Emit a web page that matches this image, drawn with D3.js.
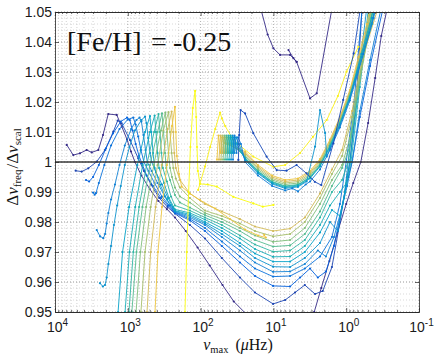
<!DOCTYPE html>
<html>
<head>
<meta charset="utf-8">
<script src="https://cdnjs.cloudflare.com/ajax/libs/d3/7.8.5/d3.min.js"></script>
<style>
  body { margin: 0; background: #fff; }
  svg { display: block; }
</style>
</head>
<body>
<svg id="chart"></svg>
<script>
// axis ticks
const xDomain = [1e4, 1e-1];
const yDomain = [0.95, 1.05];
const xTickValues = [1e4, 1e3, 1e2, 1e1, 1e0, 1e-1];
const xTickExponents = ['4', '3', '2', '1', '0', '-1'];
const yTickValues = [0.95, 0.96, 0.97, 0.98, 0.99, 1.0, 1.01, 1.02, 1.03, 1.04, 1.05];
const yTickLabels = ['0.95', '0.96', '0.97', '0.98', '0.99', '1', '1.01', '1.02', '1.03', '1.04', '1.05'];

// tracks: [numax (muHz), dnu_freq/dnu_scal]
const track0 = [[6900,1.0057],[5610,1.0023],[4540,1.0029],[3670,1.004],[3130,1.0032],[2540,1.004],[2190,1.009],[1855,1.016],[1420,1.0157],[1210,1.0118],[1025,1.0075],[904,1.0035],[797,1.0],[650,0.9955],[500,0.991],[380,0.987],[290,0.9843],[225,0.9815],[160,0.977],[110,0.9715],[75,0.9655],[50,0.959],[35,0.9535],[24,0.9495],[18,0.946],[8,0.938],[4,0.938],[2.75,0.95],[2.2,0.958],[1.7,0.967],[1.3,0.977],[1.0,0.986],[0.8,0.993],[0.63,1.0],[0.5,1.013],[0.4,1.028],[0.33,1.042],[0.28,1.05],[0.26,1.055]];
const track1 = [[5200,0.9971],[4300,0.9968],[3490,0.9979],[2675,1.0001],[2055,1.004],[1580,1.0101],[1377,1.0138],[1214,1.0129],[933,1.0073],[718,1.0012],[600,0.997],[480,0.9925],[370,0.988],[285,0.985],[225,0.9828],[140,0.979],[87,0.9745],[51,0.968],[28.8,0.9615],[17.9,0.9565],[10.1,0.9527],[6.9,0.954],[5.05,0.9565],[3.7,0.959],[2.68,0.956],[2.1,0.957],[1.57,0.965],[1.22,0.98],[0.97,0.995],[0.89,1.0],[0.73,1.02],[0.61,1.05],[0.57,1.056]];
const track2 = [[3750,0.994],[3400,0.9935],[3000,0.995],[2500,0.999],[2000,1.0045],[1600,1.0095],[1250,1.0135],[1025,1.0148],[940,1.014],[860,1.0105],[780,1.006],[700,1.002],[640,0.9995],[550,0.9955],[450,0.992],[350,0.988],[280,0.9855],[225,0.983],[140,0.9805],[87,0.977],[51,0.972],[28.8,0.9665],[17.9,0.962],[10.1,0.9587],[5.9,0.9585],[4.3,0.9615],[3.14,0.9645],[2.45,0.9615],[1.9,0.9635],[1.47,0.972],[1.14,0.985],[0.94,0.995],[0.83,1.0],[0.65,1.015],[0.47,1.032],[0.32,1.05],[0.3,1.055]];
const track3 = [[3000,0.9898],[2850,0.9891],[2740,0.9896],[2500,0.993],[2100,0.999],[1700,1.0055],[1300,1.011],[1000,1.0142],[840,1.0148],[780,1.0125],[720,1.0085],[660,1.004],[600,1.0],[520,0.997],[430,0.993],[340,0.9885],[270,0.9855],[225,0.9832],[140,0.981],[87,0.978],[51,0.9735],[28.8,0.9685],[17.9,0.9645],[10.1,0.9618],[5.9,0.962],[3.7,0.9645],[2.29,0.9685],[1.57,0.975],[1.22,0.986],[1.0,1.0],[0.78,1.02],[0.61,1.05],[0.58,1.055]];
const track4 = [[2670,0.9773],[2400,0.9752],[2170,0.9746],[2050,0.976],[1950,0.9795],[1850,0.983],[1700,0.9875],[1500,0.9925],[1300,0.999],[1100,1.0055],[900,1.011],[760,1.014],[690,1.0148],[650,1.0135],[610,1.009],[570,1.004],[540,1.0],[470,0.997],[390,0.993],[310,0.9885],[260,0.9855],[225,0.9834],[140,0.9815],[87,0.979],[51,0.975],[28.8,0.9705],[17.9,0.9665],[10.1,0.9634],[5.9,0.9635],[3.7,0.966],[2.45,0.9705],[1.9,0.9685],[1.47,0.975],[1.14,0.985],[0.97,0.992],[0.83,1.0],[0.65,1.017],[0.47,1.034],[0.34,1.05],[0.32,1.054]];
const track5 = [[2410,0.9596],[2200,0.9585],[2055,0.959],[1950,0.9615],[1850,0.966],[1700,0.972],[1550,0.979],[1400,0.9855],[1250,0.992],[1100,0.999],[950,1.005],[800,1.0105],[650,1.014],[580,1.0151],[555,1.013],[525,1.008],[495,1.003],[470,1.0],[410,0.9965],[340,0.9925],[280,0.988],[240,0.985],[225,0.9836],[140,0.982],[87,0.9795],[51,0.976],[28.8,0.972],[17.9,0.968],[10.1,0.9651],[5.9,0.965],[3.7,0.968],[2.29,0.973],[1.67,0.98],[1.3,0.977],[1.07,0.988],[0.94,1.0],[0.71,1.025],[0.53,1.05],[0.5,1.055]];
const track6 = [[1500,0.94],[1360,0.95],[1180,0.97],[960,0.985],[740,0.999],[580,1.01],[496,1.0153],[475,1.01],[450,1.003],[428,0.998],[361,0.9925],[290,0.9875],[225,0.9838],[140,0.9825],[87,0.98],[51,0.977],[28.8,0.973],[17.9,0.9695],[10.1,0.9668],[5.9,0.9668],[3.7,0.97],[2.29,0.9765],[1.57,0.984],[1.22,0.982],[1.04,0.99],[0.89,1.0],[0.67,1.025],[0.5,1.05],[0.47,1.055]];
const track7 = [[1200,0.94],[1090,0.95],[950,0.97],[790,0.985],[625,0.999],[496,1.01],[428,1.0155],[410,1.01],[390,1.003],[372,0.998],[318,0.993],[272,0.988],[225,0.9842],[140,0.983],[87,0.9808],[51,0.978],[28.8,0.9745],[17.9,0.971],[10.1,0.9684],[5.9,0.9685],[3.7,0.972],[2.29,0.979],[1.67,0.9855],[1.22,0.99],[0.99,0.993],[0.86,1.0],[0.65,1.025],[0.49,1.05],[0.46,1.055]];
const track8 = [[1060,0.94],[965,0.95],[840,0.97],[700,0.985],[550,0.999],[435,1.01],[378,1.016],[361,1.01],[345,1.003],[330,0.998],[290,0.9935],[255,0.9885],[225,0.9855],[140,0.9838],[87,0.9815],[51,0.979],[28.8,0.9755],[17.9,0.9725],[10.1,0.9701],[5.9,0.9705],[3.7,0.974],[2.29,0.9815],[1.57,0.99],[1.14,0.994],[0.94,1.0],[0.71,1.022],[0.47,1.05],[0.44,1.055]];
const track9 = [[970,0.94],[880,0.95],[760,0.97],[630,0.985],[496,0.999],[390,1.01],[339,1.0162],[323,1.01],[308,1.003],[296,0.998],[263,0.994],[225,0.989],[192,0.9865],[140,0.9848],[87,0.9823],[51,0.98],[28.8,0.977],[17.9,0.974],[10.1,0.9718],[5.9,0.9722],[3.7,0.976],[2.29,0.9835],[1.57,0.992],[1.14,0.998],[0.92,1.004],[0.69,1.025],[0.46,1.05],[0.43,1.055]];
const track10 = [[850,0.94],[770,0.95],[670,0.97],[560,0.985],[440,0.999],[350,1.0105],[305,1.0165],[290,1.01],[276,1.003],[263,0.998],[247,0.995],[225,0.9915],[192,0.9885],[140,0.9865],[87,0.983],[51,0.981],[28.8,0.978],[17.9,0.9755],[10.1,0.9734],[5.9,0.974],[3.7,0.978],[2.29,0.986],[1.57,0.994],[1.14,0.999],[0.89,1.008],[0.65,1.027],[0.44,1.05],[0.41,1.055]];
const track11 = [[730,0.94],[660,0.95],[580,0.97],[485,0.985],[390,0.999],[325,1.0105],[276,1.0166],[263,1.01],[250,1.003],[237,0.998],[219,0.9945],[192,0.9915],[140,0.988],[87,0.9838],[51,0.982],[28.8,0.9795],[17.9,0.977],[10.1,0.9752],[5.9,0.976],[3.7,0.98],[2.29,0.988],[1.57,0.996],[1.14,1.002],[0.83,1.015],[0.61,1.032],[0.415,1.05],[0.39,1.055]];
const track12 = [[600,0.94],[545,0.95],[485,0.97],[415,0.985],[342,0.999],[283,1.011],[250,1.0168],[237,1.01],[230,1.003],[219,0.998],[192,0.994],[140,0.9895],[87,0.986],[51,0.9835],[28.8,0.981],[17.9,0.9785],[10.1,0.977],[5.9,0.9778],[3.7,0.9815],[2.29,0.9895],[1.57,0.9975],[1.14,1.004],[0.83,1.017],[0.61,1.034],[0.38,1.05],[0.36,1.055]];
const track13 = [[460,0.94],[423,0.95],[385,0.97],[339,0.985],[290,0.999],[247,1.012],[225,1.0184],[219,1.01],[212,1.002],[198,0.996],[182,0.9918],[140,0.9895],[102,0.9873],[63,0.9845],[39.5,0.981],[24.5,0.9775],[16.2,0.9755],[12.7,0.9748],[13.4,0.9757]];
const track14 = [[175,0.94],[164,0.95],[155,0.97],[146,0.99],[138,1.005],[128,1.018],[119,1.0237],[115,1.015],[112,1.005],[109,0.997],[102,0.9927],[80,0.9925],[60,0.9918],[35.5,0.9884],[18.9,0.9862],[14,0.9851],[10,0.9857]];
const track15 = [[108,0.9907],[87,0.9985],[74,1.005],[63,1.011],[54,1.0165],[51,1.0145],[46,1.012],[35.5,1.0073],[18.9,1.0018],[10,0.9984],[6.9,0.999],[4.3,1.003],[2.86,1.0084],[1.85,1.014],[1.3,1.022],[0.99,1.0301],[0.68,1.0384]];

// core helium burning tracks
const heTrack0 = [[59.6,1.0008],[56.8,1.0088],[53.3,1.003],[50.8,1.0082],[46.2,1.0062],[24.5,1.0035],[16.3,0.999],[10.4,0.9955],[6.9,0.994],[4.6,0.9945],[3.14,0.997],[2.29,1.001],[1.67,1.0075],[1.22,1.015],[0.89,1.024],[0.68,1.035],[0.52,1.046],[0.47,1.052]];
const heTrack1 = [[55.9,1.0008],[53.3,1.0088],[50.0,1.003],[47.7,1.0082],[43.4,1.006],[24.5,1.003],[16.3,0.9985],[10.4,0.995],[6.9,0.9935],[4.6,0.994],[3.14,0.9965],[2.29,1.0005],[1.67,1.007],[1.22,1.0145],[0.89,1.0235],[0.66,1.035],[0.5,1.046],[0.45,1.052]];
const heTrack2 = [[52.5,1.0008],[50.0,1.0088],[46.9,1.003],[44.8,1.0082],[40.7,1.006],[24.5,1.0025],[16.3,0.998],[10.4,0.9945],[6.9,0.993],[4.6,0.9935],[3.14,0.996],[2.29,1.0],[1.67,1.0065],[1.22,1.014],[0.89,1.023],[0.64,1.035],[0.48,1.046],[0.44,1.052]];
const heTrack3 = [[49.2,1.0008],[46.9,1.0088],[44.1,1.003],[42.1,1.0082],[38.2,1.006],[24.5,1.002],[16.3,0.9975],[10.4,0.994],[6.9,0.9925],[4.6,0.993],[3.14,0.9955],[2.29,0.9995],[1.67,1.006],[1.22,1.0135],[0.89,1.0225],[0.63,1.035],[0.47,1.046],[0.43,1.052]];
const heTrack4 = [[46.2,1.0008],[44.1,1.0088],[41.4,1.003],[39.5,1.0082],[35.9,1.006],[24.5,1.0015],[16.3,0.997],[10.4,0.9935],[6.9,0.992],[4.6,0.9925],[3.14,0.995],[2.29,0.999],[1.67,1.0055],[1.22,1.013],[0.89,1.022],[0.62,1.035],[0.46,1.046],[0.42,1.052]];
const heTrack5 = [[43.4,1.0008],[41.4,1.0088],[38.8,1.003],[37.0,1.0082],[33.7,1.006],[24.5,1.0013],[16.3,0.9968],[10.4,0.9933],[6.9,0.9918],[4.6,0.9923],[3.14,0.9948],[2.29,0.9988],[1.67,1.0053],[1.22,1.0128],[0.89,1.0218],[0.6,1.035],[0.44,1.046],[0.4,1.052]];
const heTrack6 = [[40.7,1.0008],[38.8,1.0088],[36.4,1.003],[34.8,1.0082],[31.6,1.006],[24.5,1.001],[16.3,0.9965],[10.4,0.993],[6.9,0.9915],[4.6,0.992],[3.14,0.9945],[2.29,0.9985],[1.67,1.005],[1.22,1.0125],[0.89,1.0215],[0.62,1.036],[0.45,1.048],[0.41,1.053]];
const heTrack7 = [[38.2,1.0008],[36.4,1.0088],[34.2,1.003],[32.6,1.0082],[29.7,1.006],[24.5,1.0007],[16.3,0.9962],[10.4,0.9927],[6.9,0.9912],[4.6,0.9917],[3.5,0.9935],[2.68,1.0051],[2.29,1.0173],[1.95,1.0097],[1.85,1.0018],[1.67,1.0045],[1.22,1.0122],[0.89,1.0212],[0.6,1.036],[0.43,1.048],[0.39,1.053]];
const heTrack8 = [[35.9,1.0008],[34.2,1.0088],[32.1,1.003],[30.6,1.0082],[27.9,1.006],[24.5,1.0],[16.3,0.9955],[10.4,0.992],[6.9,0.9905],[5.5,0.9912],[4.6,0.9902],[3.6,0.9925],[3.14,0.9935],[2.29,0.9975],[1.67,1.004],[1.22,1.0115],[0.89,1.0205],[0.58,1.036],[0.42,1.048],[0.38,1.053]];
const heTrackBlue = [[30.3,1.0007],[29.5,1.009],[28.2,1.0173],[24.5,1.0162],[18.9,1.0096],[12.4,1.0018],[9.0,0.9973],[6.6,0.9971],[4.8,0.999],[3.5,0.9962],[2.7,0.9934],[2.2,0.9923],[1.5,1.0062],[1.1,1.0207],[0.79,1.0362],[0.65,1.05],[0.62,1.054]];
const agbTrack = [[16,1.056],[14.5,1.05],[12,1.0425],[10,1.0379],[8.1,1.0357],[5.9,1.0357],[4.8,1.0334],[3.14,1.0212],[2.54,1.0229],[1.6,1.05],[1.5,1.054]];
const agbBranch = [[6.2,1.0373],[5.3,1.0346],[4.8,1.0334]];

// colour-scale value (0..1) of each track, same order as allTracks
const allTracks = [track0, track1, track2, track3, track4, track5, track6, track7, track8, track9,
  track10, track11, track12, track13, track14, track15,
  heTrack0, heTrack1, heTrack2, heTrack3, heTrack4, heTrack5, heTrack6, heTrack7, heTrack8,
  heTrackBlue, agbTrack, agbBranch];
const trackColourValue = [0, 0.06, 0.12, 0.18, 0.24, 0.30, 0.36, 0.42, 0.48, 0.54,
  0.60, 0.66, 0.74, 0.82, 1.0, 0.97,
  0.82, 0.75, 0.68, 0.60, 0.52, 0.45, 0.38, 0.30, 0.22,
  0.07, 0.0, 0.0];

const parula = d3.piecewise(d3.interpolateRgb, ['#352a87', '#0363e1', '#1485d4', '#06a7c6', '#38b99e', '#92bf73', '#d9ba56', '#fcce2e', '#f9fb0e']);

const width = 436;
const height = 355;
const margin = {top: 12, right: 17, bottom: 43, left: 55};
const innerW = width - margin.left - margin.right;
const innerH = height - margin.top - margin.bottom;

const svg = d3.select('#chart')
  .attr('width', width)
  .attr('height', height)
  .style('background', '#fff');

const x = d3.scaleLog().domain(xDomain).range([0, innerW]);
const y = d3.scaleLinear().domain(yDomain).range([innerH, 0]);

const g = svg.append('g').attr('transform', `translate(${margin.left},${margin.top})`);

svg.append('defs').append('clipPath').attr('id', 'plotclip')
  .append('rect').attr('width', innerW).attr('height', innerH);

// minor grid
const minorX = [];
for (let e = -1; e < 4; e++) {
  for (let m = 2; m <= 9; m++) minorX.push(m * Math.pow(10, e));
}
const minorY = d3.range(0, 51).map(i => 0.95 + i * 0.002);

const grid = g.append('g').attr('class', 'grid');
grid.selectAll('.gx-minor').data(minorX).enter().append('line')
  .attr('x1', d => x(d)).attr('x2', d => x(d))
  .attr('y1', 0).attr('y2', innerH)
  .attr('stroke', '#bdbdbd').attr('stroke-width', 0.7).attr('stroke-dasharray', '1,2');
grid.selectAll('.gy-minor').data(minorY).enter().append('line')
  .attr('x1', 0).attr('x2', innerW)
  .attr('y1', d => y(d)).attr('y2', d => y(d))
  .attr('stroke', '#c8c8c8').attr('stroke-width', 0.7).attr('stroke-dasharray', '1,2');
grid.selectAll('.gx-major').data(xTickValues).enter().append('line')
  .attr('x1', d => x(d)).attr('x2', d => x(d))
  .attr('y1', 0).attr('y2', innerH)
  .attr('stroke', '#999').attr('stroke-width', 0.8).attr('stroke-dasharray', '1,2');
grid.selectAll('.gy-major').data(yTickValues).enter().append('line')
  .attr('x1', 0).attr('x2', innerW)
  .attr('y1', d => y(d)).attr('y2', d => y(d))
  .attr('stroke', '#999').attr('stroke-width', 0.8).attr('stroke-dasharray', '1,2');

// tracks
const line = d3.line().x(d => x(d[0])).y(d => y(d[1]));
const plot = g.append('g').attr('clip-path', 'url(#plotclip)');

allTracks.forEach((pts, i) => {
  const col = parula(trackColourValue[i]);
  plot.append('path')
    .datum(pts)
    .attr('d', line)
    .attr('fill', 'none')
    .attr('stroke', col)
    .attr('stroke-width', 0.9)
    .attr('stroke-linejoin', 'round');
  plot.append('g').selectAll('circle')
    .data(pts)
    .enter()
    .append('circle')
    .attr('cx', d => x(d[0]))
    .attr('cy', d => y(d[1]))
    .attr('r', 1.1)
    .attr('fill', col);
});

// reference line at 1
plot.append('line')
  .attr('x1', 0).attr('x2', innerW)
  .attr('y1', y(1)).attr('y2', y(1))
  .attr('stroke', '#3a3a3a').attr('stroke-width', 1.6);

// axes
const yAxis = d3.axisLeft(y)
  .tickValues(yTickValues)
  .tickFormat((d, i) => yTickLabels[i])
  .tickSizeInner(-4).tickSizeOuter(0).tickPadding(3);
const yAxisG = g.append('g').call(yAxis);
yAxisG.selectAll('text')
  .style('font-family', '"Liberation Sans", Arial, sans-serif')
  .style('font-size', '14px')
  .attr('fill', '#1a1a1a');

const yAxisR = d3.axisRight(y).tickValues(yTickValues).tickFormat('')
  .tickSizeInner(-4).tickSizeOuter(0);
g.append('g').attr('transform', `translate(${innerW},0)`).call(yAxisR);

const xAxis = d3.axisBottom(x)
  .tickValues(xTickValues)
  .tickFormat('')
  .tickSizeInner(-4).tickSizeOuter(0).tickPadding(10);
const xAxisG = g.append('g').attr('transform', `translate(0,${innerH})`).call(xAxis);
xAxisG.selectAll('.tick').each(function(d, i) {
  const t = d3.select(this).select('text')
    .style('font-family', '"Liberation Sans", Arial, sans-serif')
    .style('font-size', '14px')
    .attr('fill', '#1a1a1a')
    .attr('dx', '2');
  t.append('tspan').text('10');
  t.append('tspan').text(xTickExponents[i]).attr('dy', -6).style('font-size', '10px');
});
g.append('g').attr('transform', `translate(0,${innerH})`)
  .call(d3.axisBottom(x).tickValues(minorX).tickFormat('').tickSizeInner(-2).tickSizeOuter(0));
g.append('g')
  .call(d3.axisTop(x).tickValues(xTickValues).tickFormat('').tickSizeInner(-4).tickSizeOuter(0));
g.append('g')
  .call(d3.axisTop(x).tickValues(minorX).tickFormat('').tickSizeInner(-2).tickSizeOuter(0));

g.selectAll('.domain').attr('stroke', '#262626').attr('stroke-width', 0.8);
g.selectAll('.tick line').attr('stroke', '#262626').attr('stroke-width', 0.7);

// labels
const serif = '"Liberation Serif", "Times New Roman", serif';

const xt = svg.append('text')
  .attr('x', 238).attr('y', 350)
  .attr('text-anchor', 'middle')
  .style('font-family', serif).style('font-size', '16px').attr('fill', '#111');
xt.append('tspan').text('ν').style('font-style', 'italic');
xt.append('tspan').text('max').style('font-size', '10.5px').attr('dy', 3);
xt.append('tspan').text('(').attr('dy', -3).attr('dx', 7);
xt.append('tspan').text('μ').style('font-style', 'italic');
xt.append('tspan').text('Hz)');

const yt = svg.append('text')
  .attr('transform', 'translate(18,167) rotate(-90)')
  .attr('text-anchor', 'middle')
  .style('font-family', serif).style('font-size', '17px').attr('fill', '#111');
yt.append('tspan').text('Δ');
yt.append('tspan').text('ν').style('font-style', 'italic');
yt.append('tspan').text('freq').style('font-size', '11px').attr('dy', 3);
yt.append('tspan').text('/').attr('dy', -3).attr('dx', 1);
yt.append('tspan').text('Δ');
yt.append('tspan').text('ν').style('font-style', 'italic');
yt.append('tspan').text('scal').style('font-size', '11px').attr('dy', 3);

const ann = svg.append('text')
  .attr('y', 51)
  .style('font-family', serif).style('font-size', '28px').attr('fill', '#111');
ann.append('tspan').attr('x', 67).text('[Fe/H]');
ann.append('tspan').attr('x', 151).text('=');
ann.append('tspan').attr('x', 173).text('-0.25');
</script>
</body>
</html>
